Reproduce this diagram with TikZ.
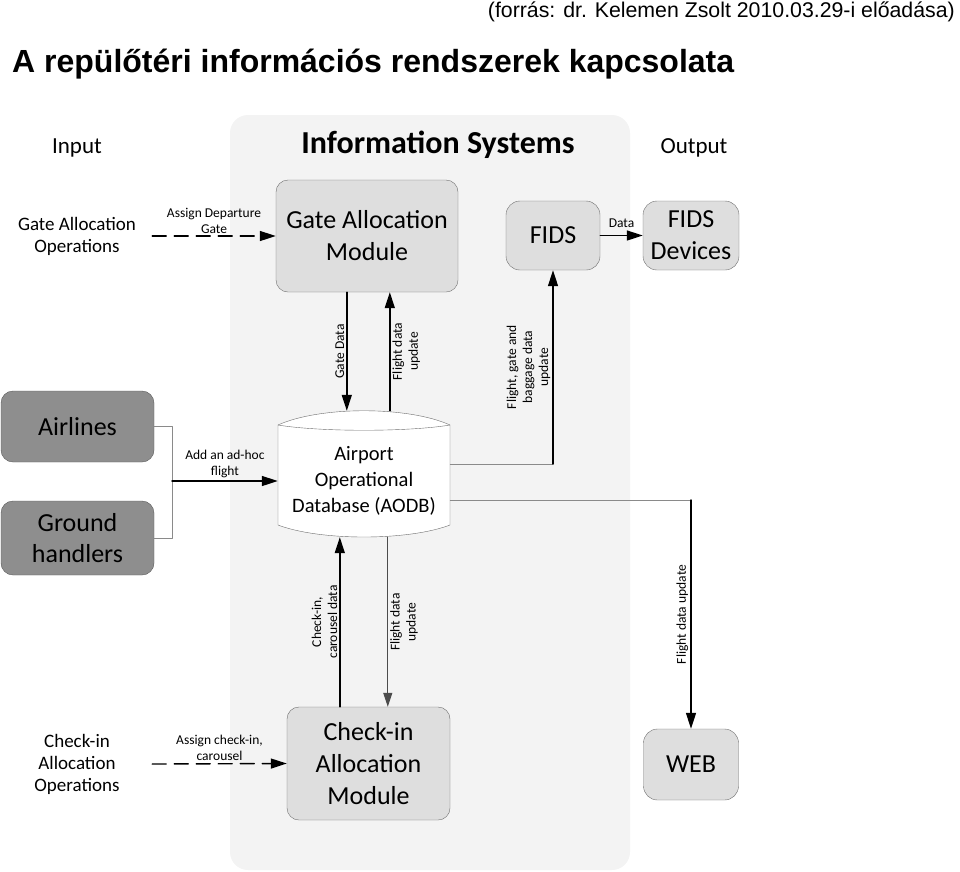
\documentclass[tikz,border=0pt]{standalone}
\usepackage{fontspec}
\setmainfont{Carlito}
\newfontfamily\arialfont{Liberation Sans}
\usetikzlibrary{arrows.meta}
\definecolor{panelgray}{HTML}{F3F3F3}
\definecolor{boxgray}{HTML}{DEDEDE}
\definecolor{darkbox}{HTML}{8E8E8E}
\definecolor{edgegray}{HTML}{6E6E6E}
\definecolor{linegray}{HTML}{8A8A8A}
\begin{document}
\begin{tikzpicture}[x=1pt, y=-1pt, line cap=round, line join=round,
    module/.style={draw=edgegray, fill=boxgray, rounded corners=12pt, align=center, inner sep=0pt, font=\fontsize{26pt}{32pt}\selectfont},
    actor/.style={draw=black!65, fill=darkbox, rounded corners=12pt, align=center, inner sep=0pt, minimum width=153pt, font=\fontsize{26pt}{31pt}\selectfont},
    extern/.style={align=center, minimum width=150pt, inner sep=0pt, font=\fontsize{19pt}{22pt}\selectfont},
    heading/.style={font=\fontsize{23pt}{28pt}\selectfont},
    flowlbl/.style={align=center, inner sep=2pt, font=\fontsize{13.5pt}{16pt}\selectfont},
    arr/.style={line width=1.4pt, -{Triangle[length=16pt,width=10pt]}},
    dasharr/.style={arr, dash pattern=on 14pt off 8pt},
    thinln/.style={line width=0.8pt, draw=linegray},
    thinarr/.style={line width=1pt, draw=black!70, -{Triangle[length=14pt,width=9pt]}}]
  \useasboundingbox (0,0) rectangle (960,871);

  % A. Cim
  \node[anchor=east, inner sep=0pt, font=\arialfont\fontsize{21.3pt}{24pt}\selectfont] (source) at (955,12) {(forrás: dr. Kelemen Zsolt 2010.03.29-i előadása)};
  \node[anchor=west, inner sep=0pt, font=\arialfont\bfseries\fontsize{32pt}{38pt}\selectfont] (title) at (12,64) {A repülőtéri információs rendszerek kapcsolata};

  % B. Hatter es fejlecek
  \fill[panelgray, rounded corners=18pt] (230,115) rectangle (630,870);
  \node[heading] (input) at (77,148) {Input};
  \node[font=\bfseries\fontsize{32pt}{38pt}\selectfont] (infosys) at (438,145) {Information Systems};
  \node[heading] (output) at (694,148) {Output};

  % C. Modulok
  \node[module, minimum width=182pt, minimum height=112pt] (gam) at (367,236) {Gate Allocation\\Module};
  \node[module, minimum width=94pt, minimum height=69pt, rounded corners=14pt] (fids) at (553,235.5) {FIDS};
  \node[module, minimum width=96pt, minimum height=69pt, rounded corners=14pt] (devices) at (691,235.5) {FIDS\\Devices};
  \node[module, minimum width=163pt, minimum height=113pt] (cam) at (368.5,763.5) {Check-in\\Allocation\\Module};
  \node[module, minimum width=95pt, minimum height=71pt, rounded corners=14pt] (web) at (691,764.5) {WEB};

  % D. Szereplok
  \node[actor, minimum height=71pt] (airlines) at (77.5,426.5) {Airlines};
  \node[actor, minimum height=74pt] (ground) at (77.5,538) {Ground\\handlers};
  \node[extern] (gateops) at (77,236) {Gate Allocation\\Operations};
  \node[extern] (checkops) at (77,764) {Check-in\\Allocation\\Operations};

  % E. AODB
  \node[minimum width=172pt, minimum height=126pt, inner sep=0pt] (aodb) at (364,474) {};
  \begin{scope}[shift={(aodb.center)}]
    \draw[edgegray, fill=white] (-86,-49) .. controls (-44,-68) and (44,-68) .. (86,-49) -- (86,51) .. controls (44,67) and (-44,67) .. (-86,51) -- cycle;
    \draw[edgegray] (-86,-49) .. controls (-44,-42) and (44,-42) .. (86,-49);
  \end{scope}
  \node[align=center, font=\fontsize{20.5pt}{26pt}\selectfont] (aodbtext) at (364,481) {Airport\\Operational\\Database (AODB)};

  % F. Kapcsolatok
  \draw[dasharr] (gateops.east) -- node[flowlbl, above] {Assign Departure\\Gate} (gam.west);
  \draw[dasharr] (checkops.east) -- node[flowlbl, above] {Assign check-in,\\carousel} (cam.west);
  \draw[arr] (fids.east) -- node[flowlbl, above=5pt] {Data} (devices.west);

  \draw[thinln] (airlines.east) -- ++(18,0) |- (ground.east);
  \coordinate (brk) at (172,481);
  \draw[arr] (brk) -- node[flowlbl, above] {Add an ad-hoc\\flight} (brk -| aodb.west);

  \coordinate (gd) at ([xshift=71pt]gam.south west);
  \coordinate (fu) at ([xshift=114pt]gam.south west);
  \draw[arr] (gd) -- node[flowlbl, rotate=90, anchor=south, midway] {Gate Data} (gd |- aodb.north);
  \draw[arr] (fu |- aodb.north) -- node[flowlbl, rotate=90, anchor=north, midway] {Flight data\\update} (fu);

  \coordinate (ff) at ([yshift=10pt]aodb.east);
  \draw[thinln] (ff) -- (ff -| fids.south);
  \draw[arr] (ff -| fids.south) -- node[flowlbl, rotate=90, anchor=south, midway] {Flight, gate and\\baggage data\\update} (fids.south);

  \coordinate (wf) at ([yshift=-26pt]aodb.east);
  \draw[thinln] (wf) -- (wf -| web.north);
  \draw[arr] (wf -| web.north) -- node[flowlbl, rotate=90, anchor=south, midway] {Flight data update} (web.north);

  \coordinate (cc) at ([xshift=53pt]cam.north west);
  \coordinate (cd) at ([xshift=101pt]cam.north west);
  \draw[arr] (cc) -- node[flowlbl, rotate=90, anchor=south, midway] {Check-in,\\carousel data} (cc |- aodb.south);
  \draw[thinarr] (cd |- aodb.south) -- node[flowlbl, rotate=90, anchor=north, midway] {Flight data\\update} (cd);
\end{tikzpicture}
\end{document}
